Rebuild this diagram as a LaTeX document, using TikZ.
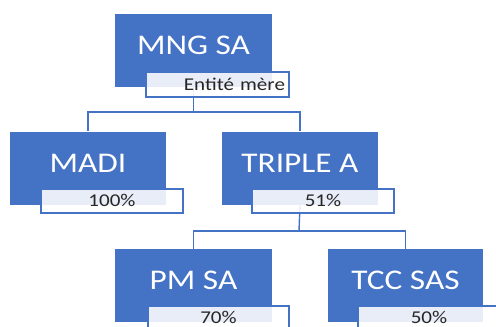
\documentclass[tikz,border=0pt]{standalone}
\usepackage{fontspec}
\setmainfont{Carlito}
\newfontfamily\widefont[FakeStretch=1.17]{Carlito}
\definecolor{ofblue}{HTML}{4472C4}
\definecolor{lblfill}{HTML}{FFFFFF}
\tikzset{
  bluebox/.style={rectangle, fill=ofblue, draw=none, minimum width=156pt, minimum height=73pt,
    text=white, font=\widefont\fontsize{28.5}{30}\selectfont, text height=18pt, text depth=10pt, inner sep=0pt},
  lblbox/.style={rectangle, draw=ofblue, line width=1.4pt, fill=lblfill, fill opacity=0.88, text opacity=1,
    minimum width=142pt, minimum height=24pt, inner sep=0pt, text=black!85,
    font=\widefont\fontsize{18}{19}\selectfont, text height=12pt, text depth=1pt},
  conn/.style={draw=ofblue, line width=1.4pt}
}
\begin{document}
\begin{tikzpicture}[x=1pt,y=-1pt]
\path[use as bounding box] (0,0) rectangle (496,327);
\clip (0,0) rectangle (496,327);
% boxes
\node[bluebox, minimum width=157pt] (mng) at (193.5,50) {MNG SA};
\node[bluebox] (madi) at (88,168) {MADI};
\node[bluebox] (triple) at (300,168) {TRIPLE A};
\node[bluebox, minimum width=157pt] (pm) at (193.5,285.5) {PM SA};
\node[bluebox, minimum width=155pt] (tcc) at (405.5,285.5) {TCC SAS};
% connectors
\coordinate (j1) at (193.5,112);
\coordinate (j2) at (299,231);
\draw[conn] (mng.south) -- (j1);
\draw[conn] (j1) -| (madi.north);
\draw[conn] (j1) -| (triple.north);
\draw[conn] (triple.south) -- (j2);
\draw[conn] (j2) -| (pm.north);
\draw[conn] (j2) -| (tcc.north);
% labels
\node[lblbox, minimum width=143pt, minimum height=25pt, text width=135pt, align=right] (mnglbl) at (217.5,84.5) {Entité mère};
\node[lblbox] (madilbl) at (112,201) {100\%};
\node[lblbox] (triplelbl) at (323,201) {51\%};
\node[lblbox, minimum width=141pt] (pmlbl) at (218.5,318) {70\%};
\node[lblbox] (tcclbl) at (429,318) {50\%};
\end{tikzpicture}
\end{document}
